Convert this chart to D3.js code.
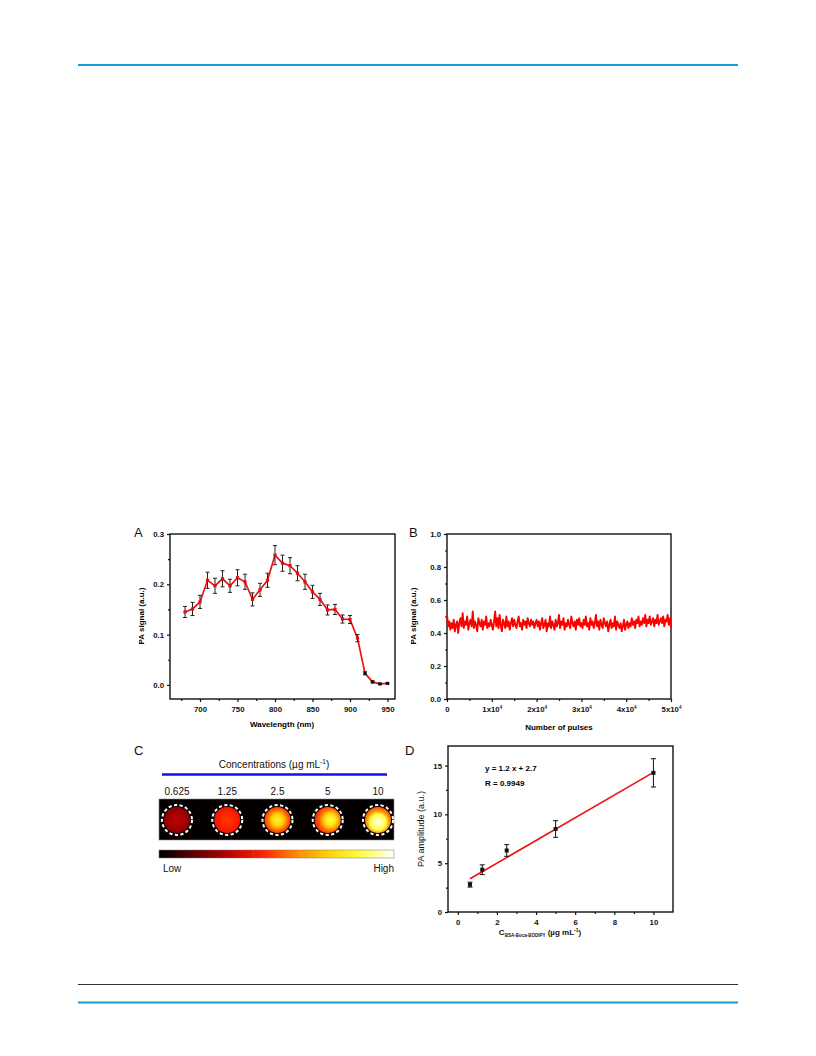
<!DOCTYPE html>
<html><head><meta charset="utf-8">
<script src="https://cdn.jsdelivr.net/npm/d3@7"></script>
<style>
body{margin:0;background:#fff;}
svg{display:block;font-family:'Liberation Sans',Arial,sans-serif;}
</style></head>
<body><svg id="c" width="816" height="1056"></svg>
<script>
// ---------- DATA ----------
// Panel A: PA spectrum
const wavelengths = [680,690,700,710,720,730,740,750,760,770,780,790,800,810,820,830,840,850,860,870,880,890,900,910,920,930,940,950];
const paSignal   = [0.145,0.151,0.165,0.208,0.197,0.211,0.197,0.213,0.205,0.170,0.189,0.208,0.258,0.242,0.237,0.222,0.205,0.185,0.170,0.149,0.150,0.131,0.130,0.093,0.023,0.006,0.002,0.003];
const paError    = [0.011,0.013,0.013,0.016,0.015,0.016,0.013,0.016,0.015,0.013,0.013,0.014,0.019,0.016,0.016,0.015,0.015,0.013,0.012,0.010,0.010,0.008,0.008,0.007,0.003,0.002,0.001,0.001];
const aXTicks = [700,750,800,850,900,950];
const aYTicks = [0.0,0.1,0.2,0.3];

// Panel B: PA signal vs number of pulses (one reading every 250 pulses)
const pulseStep = 250;
const pulseSignal = [
0.51,0.44,0.47,0.42,0.46,0.43,0.48,0.41,0.45,0.47,0.40,0.46,0.49,0.44,0.52,0.43,0.47,0.45,0.50,0.42,0.46,0.48,0.44,0.53,0.43,0.47,0.45,0.41,0.49,0.46,0.44,0.48,0.42,0.47,0.45,0.50,0.43,0.46,0.44,0.48,0.45,
0.42,0.47,0.53,0.44,0.49,0.43,0.51,0.45,0.41,0.48,0.46,0.43,0.50,0.44,0.47,0.42,0.46,0.49,0.44,0.48,0.45,0.43,0.47,0.50,0.44,0.46,0.42,0.48,0.45,0.47,0.43,0.49,0.46,0.44,0.48,0.45,0.47,0.43,0.46,0.48,
0.44,0.47,0.42,0.46,0.49,0.43,0.45,0.48,0.41,0.46,0.44,0.50,0.43,0.47,0.45,0.42,0.48,0.44,0.46,0.51,0.43,0.47,0.45,0.49,0.42,0.46,0.44,0.48,0.45,0.43,0.50,0.46,0.44,0.47,0.42,0.48,0.45,0.49,0.44,0.46,
0.43,0.48,0.45,0.50,0.44,0.46,0.42,0.49,0.45,0.47,0.43,0.46,0.51,0.44,0.47,0.42,0.48,0.45,0.43,0.49,0.46,0.44,0.47,0.41,0.45,0.48,0.43,0.46,0.44,0.50,0.42,0.47,0.45,0.43,0.46,0.41,0.44,0.48,0.42,0.45,
0.47,0.43,0.46,0.44,0.49,0.45,0.47,0.43,0.48,0.46,0.50,0.44,0.47,0.45,0.49,0.46,0.51,0.44,0.48,0.46,0.50,0.45,0.47,0.49,0.44,0.48,0.46,0.51,0.45,0.47,0.49,0.46,0.50,0.44,0.48,0.47,0.51,0.45,0.49,0.43];
const bXTicks = [0,10000,20000,30000,40000,50000];
const bXLabels = ["0","1x10|4","2x10|4","3x10|4","4x10|4","5x10|4"];
const bYTicks = [0.0,0.2,0.4,0.6,0.8,1.0];

// Panel C: PA images
const concLabels = ["0.625","1.25","2.5","5","10"];
const spotCenter = [0.30,0.47,0.82,0.86,0.98];
const spotEdge   = [0.22,0.40,0.44,0.46,0.52];
const hotStops = ["#000000","#5a0000","#b00000","#ff1a00","#ff8000","#ffd000","#ffff40","#ffffff"];

// Panel D: calibration
const concD = [0.625,1.25,2.5,5,10];
const ampD  = [2.8,4.33,6.3,8.5,14.25];
const errD  = [0.25,0.5,0.6,0.85,1.45];
const fitX  = [0.625,10];
const fitY  = [3.4,14.3];
const dXTicks = [0,2,4,6,8,10];
const dYTicks = [0,5,10,15];

// ---------- DRAW ----------
const svg = d3.select("#c");
const BLUE = "#1a9ad6";
svg.append("line").attr("x1",78).attr("x2",738).attr("y1",65).attr("y2",65).attr("stroke",BLUE).attr("stroke-width",2);
svg.append("line").attr("x1",78).attr("x2",738).attr("y1",984.5).attr("y2",984.5).attr("stroke","#333").attr("stroke-width",1);
svg.append("line").attr("x1",78).attr("x2",738).attr("y1",1002.5).attr("y2",1002.5).attr("stroke",BLUE).attr("stroke-width",2);

const tickFont = "bold 7.8px 'Liberation Sans', Arial, sans-serif";

function frame(g, x0,x1,y0,y1){
  g.append("rect").attr("x",x0).attr("y",y0).attr("width",x1-x0).attr("height",y1-y0)
   .attr("fill","none").attr("stroke","#111").attr("stroke-width",1.4);
}
function axes(g, x, y, xTicks, xMinor, yTicks, yMinor, xFmt, yFmt){
  const [X0,X1] = x.range(), [Y1,Y0] = y.range();
  const ax = g.append("g").attr("transform",`translate(0,${Y1})`)
    .call(d3.axisBottom(x).tickValues(xTicks).tickSize(3).tickPadding(4).tickFormat(xFmt));
  const axm = g.append("g").attr("transform",`translate(0,${Y1})`)
    .call(d3.axisBottom(x).tickValues(xMinor).tickSize(2).tickFormat(""));
  const ay = g.append("g").attr("transform",`translate(${X0},0)`)
    .call(d3.axisLeft(y).tickValues(yTicks).tickSize(3).tickPadding(3).tickFormat(yFmt));
  const aym = g.append("g").attr("transform",`translate(${X0},0)`)
    .call(d3.axisLeft(y).tickValues(yMinor).tickSize(2).tickFormat(""));
  [ax,axm,ay,aym].forEach(a=>{
    a.select(".domain").remove();
    a.selectAll("line").attr("stroke","#111").attr("stroke-width",1.2);
    a.selectAll("text").style("font",tickFont).attr("fill","#111");
  });
  frame(g,X0,X1,Y0,Y1);
  return ax;
}
function label(t,x,y){
  svg.append("text").attr("x",x).attr("y",y).text(t).attr("font-size",13).attr("fill","#111");
}

// ----- Panel A -----
{
  const g = svg.append("g");
  const x = d3.scaleLinear().domain([660,960]).range([170,395]);
  const y = d3.scaleLinear().domain([-0.028,0.3]).range([699,534]);
  axes(g,x,y,aXTicks,[675,725,775,825,875,925],aYTicks,[0.05,0.15,0.25],d3.format("d"),d3.format(".1f"));
  label("A",134,537);
  const line = d3.line().x((d,i)=>x(wavelengths[i])).y(d=>y(d));
  g.append("path").datum(paSignal).attr("d",line).attr("fill","none").attr("stroke","#ee1111").attr("stroke-width",1.7);
  const eb = g.append("g").attr("stroke","#222").attr("stroke-width",1);
  paSignal.forEach((v,i)=>{
    const cx = x(wavelengths[i]), t=y(v+paError[i]), b=y(v-paError[i]);
    eb.append("line").attr("x1",cx).attr("x2",cx).attr("y1",t).attr("y2",b);
    eb.append("line").attr("x1",cx-2).attr("x2",cx+2).attr("y1",t).attr("y2",t);
    eb.append("line").attr("x1",cx-2).attr("x2",cx+2).attr("y1",b).attr("y2",b);
  });
  g.selectAll("rect.pt").data(paSignal).enter().append("rect")
   .attr("x",(d,i)=>x(wavelengths[i])-1.6).attr("y",d=>y(d)-1.6).attr("width",3.2).attr("height",3.2)
   .attr("fill",(d,i)=>paError[i]<0.004?"#111":"#e01010");
  g.append("text").attr("x",282).attr("y",727).attr("text-anchor","middle").style("font","bold 8px 'Liberation Sans', Arial").text("Wavelength (nm)");
  g.append("text").attr("transform","translate(144,616) rotate(-90)").attr("text-anchor","middle").style("font","bold 8px 'Liberation Sans', Arial").text("PA signal (a.u.)");
}

// ----- Panel B -----
{
  const g = svg.append("g");
  const x = d3.scaleLinear().domain([0,50000]).range([447,671]);
  const y = d3.scaleLinear().domain([0,1]).range([699,534]);
  const ax = axes(g,x,y,bXTicks,[5000,15000,25000,35000,45000],bYTicks,[0.1,0.3,0.5,0.7,0.9],(d,i)=>"",d3.format(".1f"));
  ax.selectAll(".tick text").each(function(d,i){
    const parts = bXLabels[i].split("|");
    const t = d3.select(this);
    t.append("tspan").text(parts[0]);
    if(parts[1]) t.append("tspan").attr("dy",-3).attr("font-size",4.5).text(parts[1]);
  });
  label("B",409,537);
  const line = d3.line().x((d,i)=>x(i*pulseStep)).y(d=>y(d));
  g.append("path").datum(pulseSignal).attr("d",line).attr("fill","none").attr("stroke","#ff0000").attr("stroke-width",1.9).attr("stroke-linejoin","round");
  g.append("text").attr("x",559).attr("y",730).attr("text-anchor","middle").style("font","bold 8px 'Liberation Sans', Arial").text("Number of pulses");
  g.append("text").attr("transform","translate(416,616) rotate(-90)").attr("text-anchor","middle").style("font","bold 8px 'Liberation Sans', Arial").text("PA signal (a.u.)");
}

// ----- Panel C -----
{
  const g = svg.append("g");
  label("C",134,755);
  const hot = d3.scaleLinear().domain(d3.range(hotStops.length).map(i=>i/(hotStops.length-1))).range(hotStops).interpolate(d3.interpolateRgb);
  g.append("text").attr("x",274).attr("y",768).attr("text-anchor","middle").attr("font-size",10).attr("fill","#111")
   .html("Concentrations (µg mL<tspan dy='-4' font-size='6.5'>-1</tspan><tspan dy='4'>)</tspan>");
  g.append("line").attr("x1",162).attr("x2",387).attr("y1",774.5).attr("y2",774.5).attr("stroke","#1010ee").attr("stroke-width",2.5);
  const xs = d3.scalePoint().domain(concLabels).range([177,378]);
  g.selectAll("text.cl").data(concLabels).enter().append("text").attr("x",d=>xs(d)).attr("y",795)
   .attr("text-anchor","middle").attr("font-size",10).attr("fill","#111").text(d=>d);
  g.append("rect").attr("x",159).attr("y",799).attr("width",235).attr("height",41).attr("fill","#050000").attr("stroke","#888").attr("stroke-width",0.6);
  const defs = svg.append("defs");
  concLabels.forEach((c,i)=>{
    const gr = defs.append("radialGradient").attr("id","sp"+i).attr("cx", i===3?"60%":"50%").attr("cy", i===4?"58%":"50%").attr("r","55%");
    const ce = spotCenter[i], ed = spotEdge[i];
    gr.append("stop").attr("offset","0%").attr("stop-color",hot(ce));
    gr.append("stop").attr("offset", i===4?"55%":"40%").attr("stop-color",hot(ce-(ce-ed)*0.25));
    gr.append("stop").attr("offset","82%").attr("stop-color",hot(ed+(ce-ed)*0.15));
    gr.append("stop").attr("offset","100%").attr("stop-color",hot(ed));
    g.append("circle").attr("cx",xs(c)).attr("cy",820).attr("r",13).attr("fill",`url(#sp${i})`);
    g.append("circle").attr("cx",xs(c)).attr("cy",820).attr("r",15).attr("fill","none").attr("stroke","#fff").attr("stroke-width",2).attr("stroke-dasharray","3.2,2.4");
  });
  const lg = defs.append("linearGradient").attr("id","cbar");
  d3.range(0,1.0001,0.05).forEach(t=>lg.append("stop").attr("offset",(t*100)+"%").attr("stop-color",hot(t)));
  g.append("rect").attr("x",159).attr("y",850).attr("width",235).attr("height",8).attr("fill","url(#cbar)").attr("stroke","#777").attr("stroke-width",0.5);
  [0.4,0.6,0.8].forEach(t=>g.append("line").attr("x1",159+235*t).attr("x2",159+235*t).attr("y1",850).attr("y2",858).attr("stroke","#ccc").attr("stroke-width",0.4).attr("opacity",0.4));
  g.append("text").attr("x",163).attr("y",872).attr("font-size",10).attr("fill","#111").text("Low");
  g.append("text").attr("x",394).attr("y",872).attr("text-anchor","end").attr("font-size",10).attr("fill","#111").text("High");
}

// ----- Panel D -----
{
  const g = svg.append("g");
  const x = d3.scaleLinear().domain([-0.5,11]).range([448,673]);
  const y = d3.scaleLinear().domain([0,17]).range([912,746]);
  axes(g,x,y,dXTicks,[1,3,5,7,9],dYTicks,[2.5,7.5,12.5],d3.format("d"),d3.format("d"));
  label("D",405,755);
  g.append("path").datum(fitX).attr("d",d3.line().x(d=>x(d)).y((d,i)=>y(fitY[i]))).attr("stroke","#ee1111").attr("stroke-width",1.6).attr("fill","none");
  const eb = g.append("g").attr("stroke","#111").attr("stroke-width",1);
  ampD.forEach((v,i)=>{
    const cx=x(concD[i]), t=y(v+errD[i]), b=y(v-errD[i]);
    eb.append("line").attr("x1",cx).attr("x2",cx).attr("y1",t).attr("y2",b);
    eb.append("line").attr("x1",cx-2.5).attr("x2",cx+2.5).attr("y1",t).attr("y2",t);
    eb.append("line").attr("x1",cx-2.5).attr("x2",cx+2.5).attr("y1",b).attr("y2",b);
  });
  g.selectAll("rect.pt").data(ampD).enter().append("rect")
   .attr("x",(d,i)=>x(concD[i])-2).attr("y",d=>y(d)-2).attr("width",4).attr("height",4).attr("fill","#111");
  g.append("text").attr("x",485).attr("y",771).style("font","bold 8px 'Liberation Sans', Arial").text("y = 1.2 x + 2.7");
  g.append("text").attr("x",485).attr("y",786).style("font","bold 8px 'Liberation Sans', Arial").text("R = 0.9949");
  g.append("text").attr("transform","translate(424,829) rotate(-90)").attr("text-anchor","middle").attr("font-size",9).attr("fill","#111").text("PA amplitude (a.u.)");
  g.append("text").attr("x",540).attr("y",935).attr("text-anchor","middle").attr("fill","#111").style("font","bold 8px 'Liberation Sans', Arial")
   .html("C<tspan dy='2' font-size='4.5'>BSA-Boca-BODIPY</tspan><tspan dy='-2'> (µg mL</tspan><tspan dy='-3' font-size='5'>-1</tspan><tspan dy='3'>)</tspan>");
}
</script></body></html>
